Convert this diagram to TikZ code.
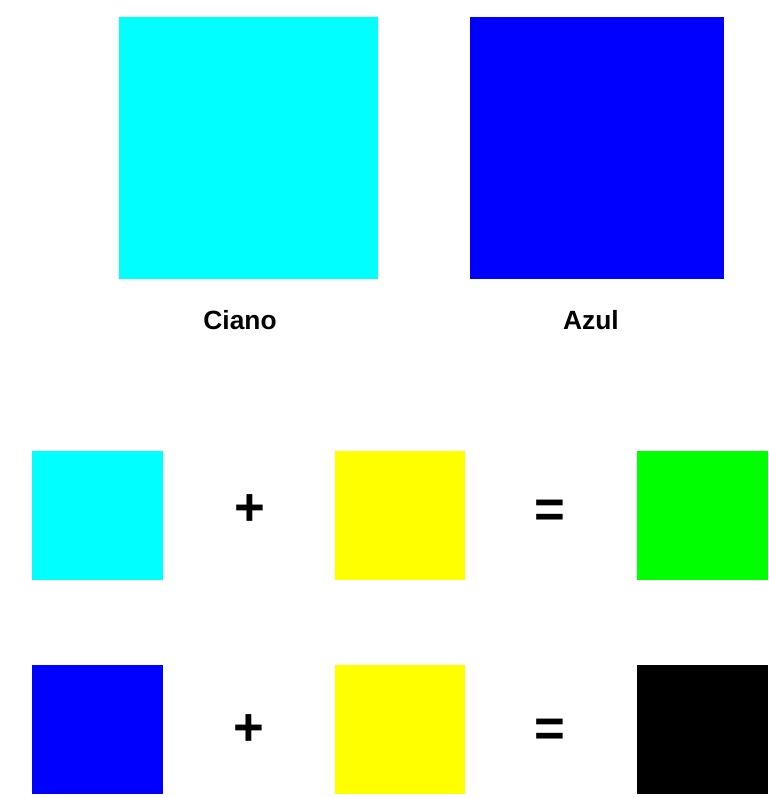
\documentclass[tikz,border=0pt]{standalone}
\usepackage{fontspec}
\setmainfont{Liberation Sans}
\usetikzlibrary{positioning}

\definecolor{ciano}{RGB}{0,255,255}
\definecolor{azul}{RGB}{0,0,255}
\definecolor{amarelo}{RGB}{255,255,0}
\definecolor{verde}{RGB}{0,255,0}

\begin{document}
\begin{tikzpicture}[
    x=0.02cm, y=-0.02cm,
    big/.style={draw=none, inner sep=0pt, minimum width=5.1cm, minimum height=5.24cm},
    small/.style={draw=none, inner sep=0pt, minimum width=2.62cm, minimum height=2.6cm},
    lbl/.style={font=\fontsize{15}{18}\selectfont\bfseries, inner sep=0pt},
    op/.style={font=\fontsize{30}{32}\selectfont\bfseries, inner sep=0pt}
]
\useasboundingbox (0,0) rectangle (768,798);

% amostras grandes
\node[big, fill=ciano, minimum width=5.18cm] (cianoG) at (248.5,148) {};
\node[big, fill=azul, minimum width=5.08cm] (azulG) at (597,148) {};
\node[lbl] (tciano) at (240,320) {Ciano};
\node[lbl] (tazul) at (591,320) {Azul};

% ciano + amarelo = verde
\node[small, fill=ciano] (c1) at (97.5,515.5) {};
\node[op] (mais1) at (250,510) {+};
\node[small, fill=amarelo] (a1) at (400,515.5) {};
\node[op] (igual1) at (550,514) {=};
\node[small, fill=verde] (v1) at (702.5,515.5) {};

% azul + amarelo = preto
\node[small, fill=azul] (b2) at (97.5,729.5) {};
\node[op] (mais2) at (249,730) {+};
\node[small, fill=amarelo] (a2) at (400,729.5) {};
\node[op] (igual2) at (550,733) {=};
\node[small, fill=black] (p2) at (702.5,729.5) {};
\end{tikzpicture}
\end{document}
